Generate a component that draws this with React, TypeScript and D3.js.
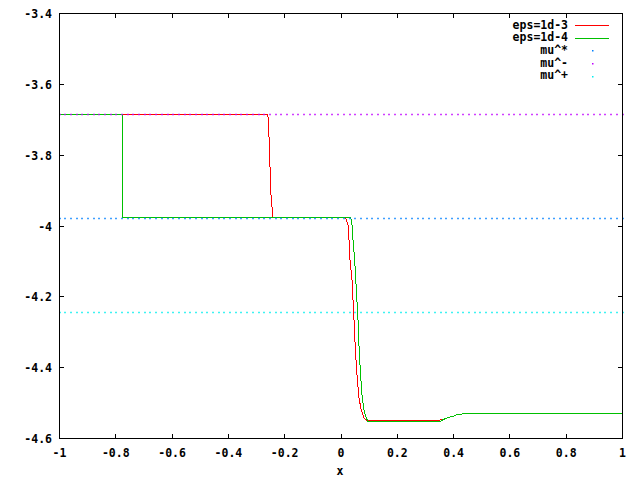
import React from "react";
import * as d3 from "d3";

const xTicks = [-1, -0.8, -0.6, -0.4, -0.2, 0, 0.2, 0.4, 0.6, 0.8, 1];
const xTickLabels = ["-1", "-0.8", "-0.6", "-0.4", "-0.2", "0", "0.2", "0.4", "0.6", "0.8", "1"];
const yTicks = [-3.4, -3.6, -3.8, -4, -4.2, -4.4, -4.6];
const yTickLabels = ["-3.4", "-3.6", "-3.8", "-4", "-4.2", "-4.4", "-4.6"];

const redX = [-1, -0.2611, -0.2575, -0.2547, -0.2512, -0.2476, -0.2451, -0.2416, 0.0142, 0.0188, 0.0249, 0.0284, 0.032, 0.0391, 0.0426, 0.0462, 0.0508, 0.0568, 0.0639, 0.0721, 0.0817, 0.0899, 0.3517, 0.3659, 0.3776, 0.3897, 0.4014, 0.4131, 0.4344, 1];
const redY = [-3.685, -3.685, -3.7008, -3.7763, -3.8562, -3.9353, -3.9466, -3.975, -3.975, -3.9805, -3.9975, -4.0398, -4.0963, -4.1528, -4.2093, -4.2658, -4.3449, -4.4212, -4.4862, -4.5201, -4.5427, -4.548, -4.548, -4.5455, -4.5418, -4.539, -4.5362, -4.5322, -4.5305, -4.5305];

const greenX = [-1, -0.7755, -0.7755, 0.0345, 0.0391, 0.0426, 0.0487, 0.0544, 0.0604, 0.0629, 0.0686, 0.0746, 0.0817, 0.0899, 0.0959, 0.3517, 0.3659, 0.3776, 0.3897, 0.4014, 0.4131, 0.4344, 1];
const greenY = [-3.685, -3.685, -3.975, -3.975, -3.9975, -4.0398, -4.0963, -4.1811, -4.2658, -4.3223, -4.4071, -4.4777, -4.5201, -4.5427, -4.552, -4.552, -4.5455, -4.5418, -4.539, -4.5362, -4.5322, -4.5305, -4.5305];

const muNames = ["mu^*", "mu^-", "mu^+"];
const muValues = [-3.976, -3.685, -4.244];
const muColors = ["#0080ff", "#c000ff", "#00eeee"];
const seriesNames = ["eps=1d-3", "eps=1d-4"];
const seriesColors = ["#ff0000", "#00c000"];
const SAMPLES = 100;

const W = 640, H = 480;
const L = 59.5, R = 622.5, T = 13.5, B = 438.5;
const FONT = "'DejaVu Sans Mono', monospace";

export default function App() {
  const x = d3.scaleLinear().domain([-1, 1]).range([L, R]);
  const y = d3.scaleLinear().domain([-4.6, -3.4]).range([B, T]);
  const line = d3.line<[number, number]>().x((d) => x(d[0])).y((d) => y(d[1]));
  const redPts = redX.map((v, i) => [v, redY[i]] as [number, number]);
  const greenPts = greenX.map((v, i) => [v, greenY[i]] as [number, number]);
  const sx = d3.range(SAMPLES).map((i) => -1 + (2 * i) / (SAMPLES - 1));
  const tick = 4.5;
  const legY = (i: number) => 25 + i * 12.7;

  return (
    <svg width={W} height={H} style={{ position: "absolute", left: 0, top: 0, background: "#fff" }}>
      <rect x={0} y={0} width={W} height={H} fill="#fff" />
      {/* ticks */}
      <g stroke="#000" strokeWidth={1} shapeRendering="crispEdges">
        {xTicks.map((t, i) => (
          <g key={"xt" + i}>
            <line x1={x(t)} x2={x(t)} y1={B} y2={B - tick} />
            <line x1={x(t)} x2={x(t)} y1={T} y2={T + tick} />
          </g>
        ))}
        {yTicks.map((t, i) => (
          <g key={"yt" + i}>
            <line x1={L} x2={L + tick} y1={y(t)} y2={y(t)} />
            <line x1={R} x2={R - tick} y1={y(t)} y2={y(t)} />
          </g>
        ))}
      </g>
      <g fontFamily={FONT} fontWeight="bold" fontSize={11.5} fill="#000">
        {xTicks.map((t, i) => (
          <text key={"xl" + i} x={x(t)} y={453} textAnchor="middle" dominantBaseline="middle">
            {xTickLabels[i]}
          </text>
        ))}
        {yTicks.map((t, i) => (
          <text key={"yl" + i} x={52} y={y(t) + 1} textAnchor="end" dominantBaseline="middle">
            {yTickLabels[i]}
          </text>
        ))}
        <text x={340} y={471.5} textAnchor="middle" dominantBaseline="middle">x</text>
        {seriesNames.map((n, i) => (
          <text key={"sn" + i} x={568} y={legY(i)} textAnchor="end" dominantBaseline="middle">{n}</text>
        ))}
        {muNames.map((n, i) => (
          <text key={"mn" + i} x={568} y={legY(i + 2)} textAnchor="end" dominantBaseline="middle">{n}</text>
        ))}
      </g>
      {/* series */}
      <g fill="none" strokeWidth={1} shapeRendering="crispEdges">
        <path d={line(redPts) || ""} stroke={seriesColors[0]} />
        <path d={line(greenPts) || ""} stroke={seriesColors[1]} />
      </g>
      {seriesNames.map((n, i) => (
        <line key={"sl" + i} x1={575} x2={609} y1={Math.round(legY(i)) + 0.5} y2={Math.round(legY(i)) + 0.5} stroke={seriesColors[i]} strokeWidth={1} shapeRendering="crispEdges" />
      ))}
      {muValues.map((m, j) => (
        <g key={"mu" + j} fill={muColors[j]}>
          {sx.map((v, i) => (
            <rect key={i} x={Math.round(x(v)) - 0.75} y={Math.round(y(m)) - 0.25} width={1.5} height={1.5} />
          ))}
          <rect x={592} y={Math.round(legY(j + 2))} width={1.5} height={1.5} />
        </g>
      ))}
      {/* border */}
      <rect x={L} y={T} width={R - L} height={B - T} fill="none" stroke="#000" strokeWidth={1} shapeRendering="crispEdges" />
    </svg>
  );
}
